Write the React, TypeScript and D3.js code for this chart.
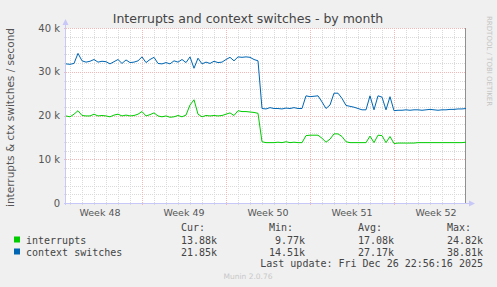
import React from 'react';
import * as d3 from 'd3';

// samples every 8 hours
const interrupts = [
  19.9, 19.7, 20.3, 21.1, 20.0, 19.9, 19.9, 20.3, 19.9, 20.0,
  19.9, 19.7, 20.1, 20.3, 19.9, 20.1, 19.9, 20.0, 20.3, 20.9,
  19.9, 20.2, 20.6, 19.9, 19.7, 19.9, 19.6, 19.7, 20.0, 19.7,
  20.1, 22.4, 23.6, 20.3, 19.7, 20.0, 19.9, 20.0, 19.9, 20.0,
  20.3, 20.6, 20.0, 21.1, 20.9, 20.9, 20.8, 20.7, 20.5, 14.0,
  13.8, 13.8, 13.8, 13.9, 13.8, 14.0, 13.8, 13.9, 13.8, 13.8,
  15.4, 15.5, 15.5, 15.5, 14.8, 13.9, 14.6, 15.8, 15.8, 15.2,
  14.0, 13.8, 13.8, 13.8, 13.8, 13.8, 15.3, 13.8, 15.5, 15.4,
  13.8, 15.2, 13.6, 13.7, 13.7, 13.7, 13.7, 13.7, 13.8, 13.8,
  13.8, 13.8, 13.8, 13.8, 13.8, 13.8, 13.8, 13.8, 13.8, 13.8, 13.9,
];

const contextSwitches = [
  31.8, 31.7, 31.9, 34.2, 32.5, 32.2, 32.4, 32.8, 32.2, 32.4,
  32.3, 31.8, 32.3, 32.8, 31.9, 32.7, 32.1, 32.2, 32.5, 33.4,
  32.1, 32.8, 33.3, 31.9, 31.8, 32.1, 31.8, 32.5, 32.2, 32.8,
  32.1, 33.4, 30.8, 33.1, 31.8, 32.2, 31.9, 32.4, 32.1, 32.2,
  32.8, 33.3, 32.5, 33.4, 33.3, 33.4, 33.3, 32.8, 32.5, 21.6,
  21.5, 21.8, 21.6, 21.6, 21.5, 21.7, 21.6, 21.8, 21.6, 21.6,
  24.5, 24.3, 24.4, 24.5, 23.1, 21.6, 22.4, 25.1, 25.1, 23.9,
  22.3, 22.1, 21.9, 21.6, 21.3, 21.3, 24.5, 21.3, 24.5, 24.2,
  21.3, 24.3, 21.1, 21.2, 21.2, 21.3, 21.2, 21.3, 21.3, 21.2,
  21.3, 21.4, 21.3, 21.2, 21.3, 21.3, 21.4, 21.4, 21.5, 21.5, 21.6,
];

const series = [
  { name: 'interrupts', color: '#00cc00', values: interrupts, cur: '13.88k', min: '9.77k', avg: '17.08k', max: '24.82k' },
  { name: 'context switches', color: '#0066b3', values: contextSwitches, cur: '21.85k', min: '14.51k', avg: '27.17k', max: '38.81k' },
];

const yTicks = [0, 10000, 20000, 30000, 40000];
const start = Date.UTC(2025, 10, 24, 16, 0);
const end = Date.UTC(2025, 11, 28, 0, 0);
const STEP = 8 * 3600 * 1000;

const W = 497;
const H = 287;
const L = 66;
const R = 466;
const T = 28;
const B = 203;

export default function App() {
  const x = d3.scaleUtc().domain([start, end]).range([L, R]);
  const y = d3.scaleLinear().domain([0, 40000]).range([B, T]);

  const days = d3.utcDay.range(new Date(start), new Date(end));
  const mondays = d3.utcMonday.range(new Date(start), new Date(end));
  const minorY = d3.range(0, 40001, 2000);
  const weekFmt = d3.utcFormat('%V');

  const weekLabels = [new Date(d3.utcMonday.floor(new Date(start))), ...mondays].map(d => {
    const mid = new Date(+d + 3.5 * 86400000);
    return { x: x(mid), text: `Week ${weekFmt(d)}` };
  });

  const line = d3.line<number>()
    .x((_, i) => x(start + i * STEP))
    .y(d => y(d * 1000));

  const mono = 'DejaVu Sans Mono, monospace';
  const sans = 'DejaVu Sans, sans-serif';

  return (
    <svg width={W} height={H} style={{ position: 'absolute', left: 0, top: 0 }}>
      <rect width={W} height={H} fill="#f0f0f0" />
      <rect x={L} y={T} width={R - L} height={B - T} fill="#ffffff" />

      {/* minor grid */}
      <g stroke="#dadada" strokeDasharray="1,1" shapeRendering="crispEdges">
        {minorY.filter(v => v % 10000 !== 0).map(v => (
          <line key={v} x1={L - 2} x2={R} y1={Math.round(y(v)) + 0.5} y2={Math.round(y(v)) + 0.5} />
        ))}
        {days.map(d => (
          <line key={+d} x1={Math.round(x(d)) + 0.5} x2={Math.round(x(d)) + 0.5} y1={T} y2={B + 2} />
        ))}
      </g>
      {/* major grid */}
      <g stroke="#f2b8b8" strokeDasharray="1,1" shapeRendering="crispEdges">
        {yTicks.filter(v => v > 0).map(v => (
          <line key={v} x1={L - 2} x2={R} y1={Math.round(y(v)) + 0.5} y2={Math.round(y(v)) + 0.5} />
        ))}
        {mondays.map(d => (
          <line key={+d} x1={Math.round(x(d)) + 0.5} x2={Math.round(x(d)) + 0.5} y1={T} y2={B + 3} />
        ))}
      </g>

      {/* axes */}
      <g stroke="#c8c8f8" shapeRendering="crispEdges">
        <line x1={L - 0.5} x2={L - 0.5} y1={B + 2} y2={T - 4} />
        <line x1={L - 2} x2={R + 4} y1={B + 0.5} y2={B + 0.5} />
      </g>
      <path d={`M${L - 3.5},${T - 3} L${L - 0.5},${T - 9} L${L + 2.5},${T - 3} Z`} fill="#c8c8f8" />
      <path d={`M${R + 3},${B - 2.5} L${R + 9},${B + 0.5} L${R + 3},${B + 3.5} Z`} fill="#c8c8f8" />
      <line x1={R - 0.5} x2={R - 0.5} y1={T} y2={B} stroke="#909090" />

      {/* series */}
      {series.map(s => (
        <path key={s.name} d={line(s.values) ?? ''} fill="none" stroke={s.color} strokeWidth={1} />
      ))}

      {/* title */}
      <text x={248} y={23} textAnchor="middle" fontFamily={sans} fontSize={12.5} fill="#444">
        Interrupts and context switches - by month
      </text>
      <text transform={`translate(14,${(T + B) / 2 + 2}) rotate(-90)`} textAnchor="middle" fontFamily={sans} fontSize={10.5} fill="#555">
        interrupts &amp; ctx switches / second
      </text>
      <text transform="translate(487,16) rotate(90)" fontFamily={sans} fontSize={7} fill="#c4c4c4">
        RRDTOOL / TOBI OETIKER
      </text>

      {/* y tick labels */}
      {yTicks.map(v => (
        <text key={v} x={60} y={y(v) + 3.5} textAnchor="end" fontFamily={sans} fontSize={10} fill="#555">
          {v === 0 ? '0' : `${v / 1000} k`}
        </text>
      ))}
      {weekLabels.map(w => (
        <text key={w.text} x={w.x} y={216} textAnchor="middle" fontFamily={sans} fontSize={9.5} fill="#555">
          {w.text}
        </text>
      ))}

      {/* legend */}
      <g fontFamily={mono} fontSize={10} fill="#444">
        <text x={181} y={231}>Cur:</text>
        <text x={269} y={231}>Min:</text>
        <text x={358} y={231}>Avg:</text>
        <text x={447} y={231}>Max:</text>
        {series.map((s, i) => {
          const ly = 243.5 + i * 12;
          return (
            <g key={s.name}>
              <rect x={14} y={ly - 7} width={6} height={6} fill={s.color} />
              <text x={26} y={ly}>{s.name}</text>
              <text x={217} y={ly} textAnchor="end">{s.cur}</text>
              <text x={305} y={ly} textAnchor="end">{s.min}</text>
              <text x={394} y={ly} textAnchor="end">{s.avg}</text>
              <text x={483} y={ly} textAnchor="end">{s.max}</text>
            </g>
          );
        })}
        <text x={483} y={267} textAnchor="end">Last update: Fri Dec 26 22:56:16 2025</text>
      </g>
      <text x={248} y={279} textAnchor="middle" fontFamily={sans} fontSize={7.5} fill="#c8c8c8">
        Munin 2.0.76
      </text>
    </svg>
  );
}
